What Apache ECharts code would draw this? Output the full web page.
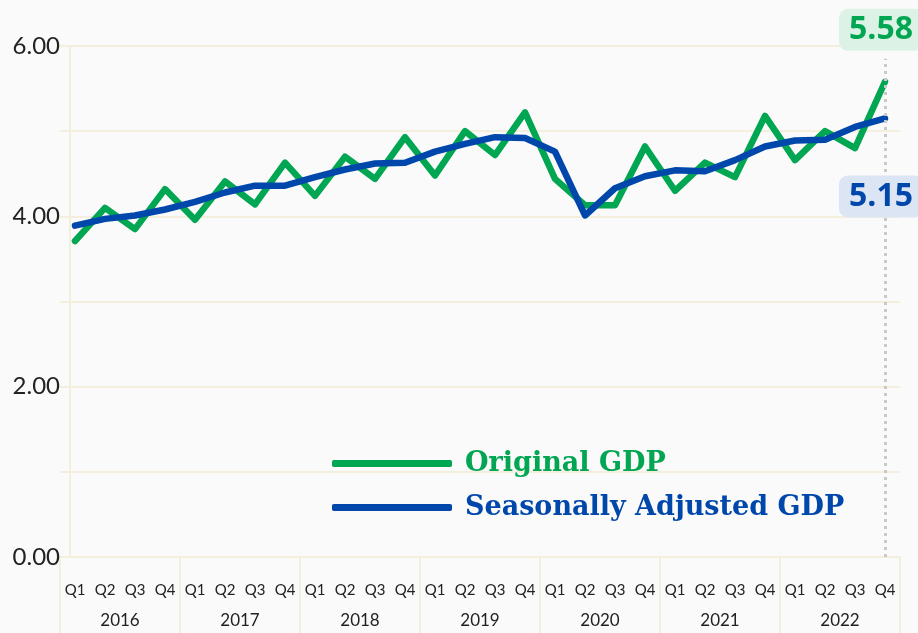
<!DOCTYPE html>
<html>
<head>
<meta charset="utf-8">
<script src="https://cdn.jsdelivr.net/npm/echarts@6/dist/echarts.min.js"></script>
<style>
  html, body { margin: 0; padding: 0; background: #fafafa; }
  #main { width: 918px; height: 633px; }
</style>
</head>
<body>
<div id="main"></div>
<script>
var years = ['2016', '2017', '2018', '2019', '2020', '2021', '2022'];
var quarters = ['Q1', 'Q2', 'Q3', 'Q4'];

// quarterly GDP
var originalGdp = [
    3.71, 4.10, 3.85, 4.32,
    3.96, 4.41, 4.14, 4.63,
    4.24, 4.70, 4.44, 4.93,
    4.48, 5.00, 4.72, 5.22,
    4.44, 4.13, 4.13, 4.82,
    4.30, 4.63, 4.46, 5.18,
    4.66, 5.00, 4.80, 5.58
];
var adjustedGdp = [
    3.89, 3.97, 4.01, 4.08,
    4.17, 4.28, 4.36, 4.36,
    4.46, 4.55, 4.62, 4.63,
    4.76, 4.85, 4.93, 4.92,
    4.76, 4.01, 4.33, 4.47,
    4.54, 4.53, 4.66, 4.82,
    4.89, 4.90, 5.05, 5.15
];
var yTicks = [0, 2, 4, 6];

var categories = [];
years.forEach(function(y) {
    quarters.forEach(function(q) { categories.push(q); });
});
var last = categories.length - 1;

var green = '#00a651';
var blue = '#0047ab';
var gridColor = '#f3efdc';

var myChart = echarts.init(document.getElementById('main'));
var option = {
    backgroundColor: '#fafafa',
    animation: false,
    grid: { left: 60, right: 18, top: 46, bottom: 76 },
    legend: {
        orient: 'vertical',
        left: 327,
        top: 445,
        icon: 'roundRect',
        itemWidth: 120,
        itemHeight: 7,
        itemGap: 17,
        data: [
            { name: 'Original GDP', textStyle: { color: green } },
            { name: 'Seasonally Adjusted GDP', textStyle: { color: blue } }
        ],
        textStyle: {
            fontFamily: 'DejaVu Serif',
            fontWeight: 'bold',
            fontSize: 27,
            padding: [0, 0, 0, 8]
        }
    },
    xAxis: [
        {
            type: 'category',
            data: categories,
            boundaryGap: true,
            axisLine: { show: true, lineStyle: { color: gridColor, width: 2 } },
            axisTick: { show: false },
            axisLabel: { interval: 0, margin: 26, fontFamily: 'Lato', fontSize: 15, color: '#222' }
        },
        {
            type: 'category',
            data: years,
            position: 'bottom',
            boundaryGap: true,
            axisLine: { show: false },
            axisTick: { show: true, length: 80, lineStyle: { color: gridColor, width: 2 } },
            axisLabel: { margin: 55, fontFamily: 'Lato', fontSize: 17, color: '#222' }
        }
    ],
    yAxis: {
        type: 'value',
        min: 0,
        max: 6,
        interval: 1,
        offset: -10,
        axisLine: { show: true, lineStyle: { color: gridColor, width: 2 } },
        axisTick: { show: false },
        axisLabel: {
            margin: 10,
            fontFamily: 'Lato',
            fontSize: 24,
            color: '#222',
            formatter: function(v) {
                return yTicks.indexOf(v) >= 0 ? v.toFixed(2) : '';
            }
        },
        splitLine: { lineStyle: { color: gridColor, width: 2 } }
    },
    series: [
        {
            name: 'Original GDP',
            type: 'line',
            data: originalGdp,
            symbol: 'none',
            z: 3,
            lineStyle: { color: green, width: 6.5, cap: 'round', join: 'round' },
            itemStyle: { color: green },
            markPoint: {
                symbol: 'circle',
                symbolSize: 0,
                data: [{ coord: [last, originalGdp[last]], value: originalGdp[last].toFixed(2) }],
                label: {
                    show: true,
                    position: 'inside',
                    offset: [-4, -52],
                    formatter: '{c}',
                    fontFamily: 'Open Sans',
                    fontWeight: 'bold',
                    fontSize: 32,
                    color: green,
                    backgroundColor: '#dcf2e6',
                    borderRadius: 9,
                    padding: [6, 10, 4, 10]
                }
            }
        },
        {
            name: 'Seasonally Adjusted GDP',
            type: 'line',
            data: adjustedGdp,
            symbol: 'none',
            z: 4,
            lineStyle: { color: blue, width: 6.5, cap: 'round', join: 'round' },
            itemStyle: { color: blue },
            markPoint: {
                symbol: 'circle',
                symbolSize: 0,
                data: [{ coord: [last, adjustedGdp[last]], value: adjustedGdp[last].toFixed(2) }],
                label: {
                    show: true,
                    position: 'inside',
                    offset: [-4, 78],
                    formatter: '{c}',
                    fontFamily: 'Open Sans',
                    fontWeight: 'bold',
                    fontSize: 32,
                    color: blue,
                    backgroundColor: '#dbe5f4',
                    borderRadius: 9,
                    padding: [6, 10, 4, 10]
                }
            },
            markLine: {
                silent: true,
                symbol: 'none',
                label: { show: false },
                lineStyle: { color: '#c9c9c9', width: 3, type: [3, 4] },
                data: [[{ coord: [last, 0] }, { coord: [last, 5.85] }]]
            }
        }
    ]
};
myChart.setOption(option);
</script>
</body>
</html>
